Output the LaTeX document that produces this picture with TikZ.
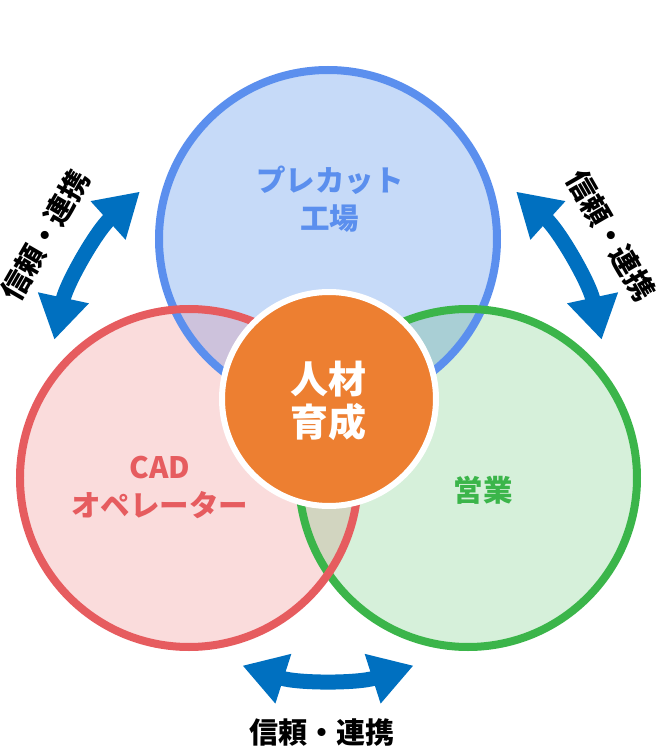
\documentclass[tikz,border=0pt]{standalone}
\usepackage{fontspec}
\setmainfont{Noto Sans CJK JP}
\usetikzlibrary{arrows.meta}
\definecolor{kojoline}{HTML}{5B8FEE}
\definecolor{kojofill}{HTML}{C6DAF8}
\definecolor{cadline}{HTML}{E65C5F}
\definecolor{cadfill}{HTML}{FADCDC}
\definecolor{eigyoline}{HTML}{3BB54A}
\definecolor{eigyofill}{HTML}{D6F0DA}
\definecolor{kojocad}{HTML}{CDC2DC}
\definecolor{kojoeigyo}{HTML}{A9CFD5}
\definecolor{cadeigyo}{HTML}{D2D5C0}
\definecolor{jinzai}{HTML}{ED7F31}
\definecolor{kizunablue}{HTML}{0070C0}
\tikzset{
  ring/.style={line width=8pt},
  circtext/.style={font=\bfseries\fontsize{29.5}{38}\selectfont, align=center},
  kizuna/.style={draw=kizunablue, line width=15pt,
    {Triangle[length=43pt,width=49pt]}-{Triangle[length=43pt,width=49pt]}},
  kizunatext/.style={font=\bfseries\fontsize{29}{34}\selectfont, text=black},
}
\begin{document}
\begin{tikzpicture}[x=1pt, y=1pt]
  \useasboundingbox (-328,-354) rectangle (332,399);
  % centres of the three circles
  \coordinate (kojo) at (0,160);
  \coordinate (cad) at (-139,-79);
  \coordinate (eigyo) at (140,-79);
  % fills
  \fill[kojofill] (kojo) circle (169);
  \fill[cadfill] (cad) circle (169);
  \fill[eigyofill] (eigyo) circle (169);
  \begin{scope}
    \clip (kojo) circle (169);
    \fill[kojocad] (cad) circle (169);
    \fill[kojoeigyo] (eigyo) circle (169);
  \end{scope}
  \begin{scope}
    \clip (cad) circle (169);
    \fill[cadeigyo] (eigyo) circle (169);
  \end{scope}
  % rings
  \draw[ring, kojoline] (kojo) circle (169);
  \draw[ring, eigyoline] (eigyo) circle (169);
  \draw[ring, cadline] (cad) circle (169);
  % centre
  \node[circle, fill=jinzai, draw=white, line width=6pt, minimum size=214pt,
        inner sep=0pt] (center) at (1,0) {};
  \node[font=\bfseries\fontsize{38}{43}\selectfont, text=white, align=center]
    (centertext) at (1,-2) {人材\\育成};
  % labels
  \node[circtext, text=kojoline] (kojotext) at (2,200) {プレカット\\工場};
  \node[circtext, text=cadline] (cadtext) at (-168,-88) {CAD\\オペレーター};
  \node[circtext, text=eigyoline] (eigyotext) at (155,-91) {営業};
  % arrows
  \foreach \a in {30,150,270}
    \draw[kizuna] (\a+17.8:280) arc[start angle=\a+17.8, end angle=\a-17.8, radius=280];
  \node[kizunatext, rotate=-60] (kizunaR) at (30:327) {信頼・連携};
  \node[kizunatext, rotate=60] (kizunaL) at (150:327) {信頼・連携};
  \node[kizunatext] (kizunaB) at (-6,-334) {信頼・連携};
\end{tikzpicture}
\end{document}
